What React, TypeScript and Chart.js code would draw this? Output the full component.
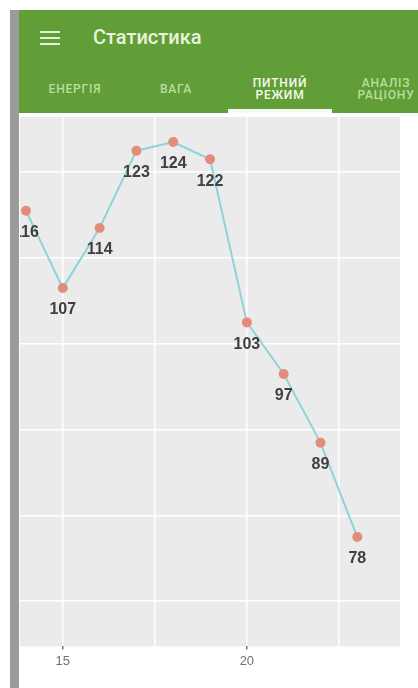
import React, { useEffect, useRef } from "react";
import { Chart, registerables } from "chart.js";

Chart.register(...registerables);

// Data
const days: number[] = [14, 15, 16, 17, 18, 19, 20, 21, 22, 23];
const waterValues: number[] = [116, 107, 114, 123, 124, 122, 103, 97, 89, 78];
const xGridValues: number[] = [15, 17.5, 20, 22.5];
const xTickLabels: string[] = ["15", "", "20", ""];
const yGridValues: number[] = [70.6, 80.5, 90.5, 100.5, 110.5, 120.5];
const tabLabels: string[][] = [["ЕНЕРГІЯ"], ["ВАГА"], ["ПИТНИЙ", "РЕЖИМ"], ["АНАЛІЗ", "РАЦІОНУ"]];
const tabCenters: number[] = [75, 176, 280, 386];
const activeTab = 2;
const titleText = "Статистика";

const panelBg = {
  id: "panelBg",
  beforeDraw(chart: any) {
    const { ctx, chartArea } = chart;
    if (!chartArea) return;
    ctx.save();
    ctx.fillStyle = "#ebebeb";
    ctx.fillRect(chartArea.left, chartArea.top, chartArea.right - chartArea.left, chartArea.bottom - chartArea.top);
    ctx.restore();
  },
};

const valueLabels = {
  id: "valueLabels",
  afterDatasetsDraw(chart: any) {
    const { ctx } = chart;
    const meta = chart.getDatasetMeta(0);
    const data = chart.data.datasets[0].data as any[];
    ctx.save();
    ctx.font = "bold 16px 'Liberation Sans', Arial, sans-serif";
    ctx.fillStyle = "#404040";
    ctx.textAlign = "center";
    ctx.textBaseline = "middle";
    meta.data.forEach((pt: any, i: number) => {
      ctx.fillText(String(data[i].y), pt.x, pt.y + 22);
    });
    ctx.restore();
  },
};

function ChartPanel() {
  const ref = useRef<HTMLCanvasElement | null>(null);
  useEffect(() => {
    if (!ref.current) return;
    const chart = new Chart(ref.current, {
      type: "line",
      data: {
        datasets: [
          {
            data: days.map((d, i) => ({ x: d, y: waterValues[i] })),
            borderColor: "#8fd3d7",
            borderWidth: 2,
            tension: 0,
            pointRadius: 5,
            pointBorderWidth: 0,
            pointBackgroundColor: "#e38c7c",
            fill: false,
          },
        ],
      },
      options: {
        animation: false,
        responsive: false,
        events: [],
        layout: { autoPadding: false, padding: { left: 0, right: 0, top: 0, bottom: 15 } },
        plugins: { legend: { display: false }, tooltip: { enabled: false } },
        scales: {
          x: {
            type: "linear",
            min: 13.837,
            max: 24.16,
            border: { display: false },
            afterBuildTicks: (s: any) => {
              s.ticks = xGridValues.map((v) => ({ value: v }));
            },
            grid: {
              color: "#ffffff",
              lineWidth: 1.5,
              tickLength: 3,
              tickWidth: 1.5,
              tickColor: (c: any) => (xTickLabels[xGridValues.indexOf(c.tick?.value)] ? "#777777" : "rgba(0,0,0,0)"),
            },
            ticks: {
              autoSkip: false,
              maxRotation: 0,
              padding: 4,
              color: "#707070",
              font: { size: 13, family: "'Liberation Sans', Arial, sans-serif" },
              callback: (v: any) => {
                const i = xGridValues.indexOf(Number(v));
                return i >= 0 ? xTickLabels[i] : "";
              },
            },
          },
          y: {
            type: "linear",
            min: 65.27,
            max: 126.92,
            border: { display: false },
            afterBuildTicks: (s: any) => {
              s.ticks = yGridValues.map((v) => ({ value: v }));
            },
            afterFit: (s: any) => {
              s.width = 0;
            },
            grid: { color: "#ffffff", lineWidth: 1.5, drawTicks: false },
            ticks: { display: false },
          },
        },
      },
      plugins: [panelBg, valueLabels],
    } as any);
    return () => chart.destroy();
  }, []);
  return <canvas ref={ref} width={380} height={571} style={{ display: "block" }} />;
}

export default function App() {
  return (
    <div style={{ position: "absolute", left: 0, top: 0, width: 418, height: 688, background: "#ffffff", overflow: "hidden" }}>
      <div style={{ position: "absolute", left: 10, top: 10, width: 9, height: 678, background: "#9b9b9b" }} />
      <div style={{ position: "absolute", left: 19, top: 10, width: 399, height: 103, background: "#629e38", overflow: "hidden" }}>
        {[0, 1, 2].map((k) => (
          <div key={k} style={{ position: "absolute", left: 21, top: 21 + k * 6, width: 20, height: 2, background: "#e4f3d6" }} />
        ))}
        <div
          style={{
            position: "absolute",
            left: 74,
            top: 14,
            fontFamily: "Roboto, 'Noto Sans', sans-serif",
            fontWeight: 500,
            fontSize: 20,
            lineHeight: "26px",
            color: "#e6f4da",
            whiteSpace: "nowrap",
          }}
        >
          {titleText}
        </div>
        {tabLabels.map((lines, i) => (
          <div
            key={i}
            style={{
              position: "absolute",
              left: tabCenters[i] - 19 - 50,
              width: 100,
              top: lines.length === 1 ? 73 : 67,
              textAlign: "center",
              fontFamily: "Roboto, 'Noto Sans', sans-serif",
              fontWeight: 500,
              fontSize: 12,
              lineHeight: "12px",
              letterSpacing: 0.8,
              color: i === activeTab ? "#f6fbf1" : "#b9dea0",
              whiteSpace: "nowrap",
            }}
          >
            {lines.map((l, j) => (
              <div key={j}>{l}</div>
            ))}
          </div>
        ))}
        <div style={{ position: "absolute", left: 228 - 19, top: 99, width: 104, height: 4, background: "#f6fbf1" }} />
      </div>
      <div style={{ position: "absolute", left: 20, top: 117 }}>
        <ChartPanel />
      </div>
    </div>
  );
}
